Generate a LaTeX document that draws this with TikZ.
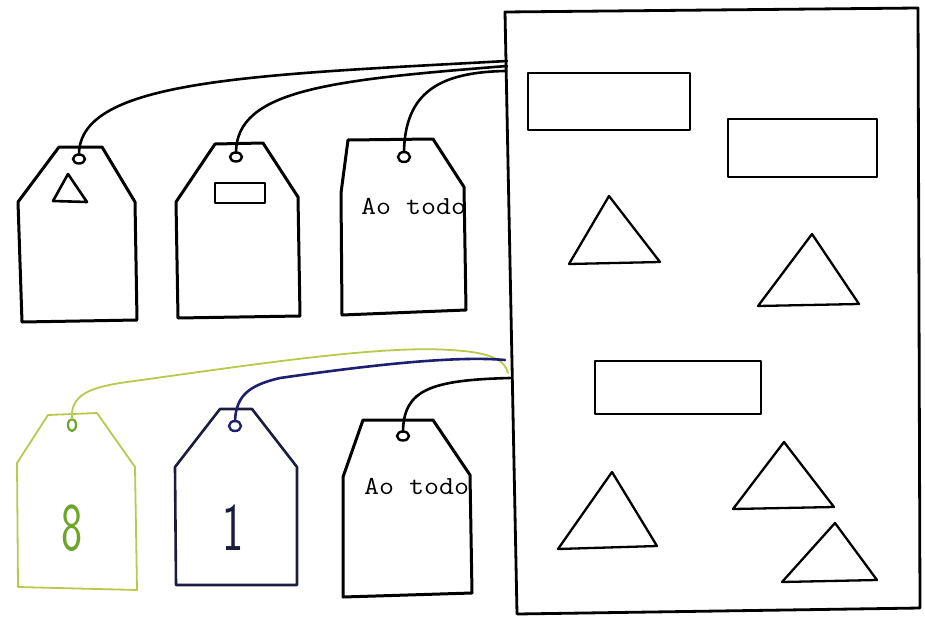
\documentclass[tikz,border=0pt]{standalone}
\usepackage{xcolor}
\usepackage{tikz}
\usetikzlibrary{calc}
\definecolor{tagyellow}{HTML}{B9C94C}
\definecolor{pengreen}{HTML}{6CA52A}
\definecolor{penblue}{HTML}{1F1F72}
\definecolor{navyline}{HTML}{1B1B3E}

\begin{document}
\begin{tikzpicture}[
    x=1pt, y=-1pt,
    tagline/.style={line width=3pt, line join=round},
    shapeline/.style={line width=2.3pt, line join=round},
    cord/.style={line width=2.6pt, line cap=round},
    typed/.style={font=\ttfamily\fontsize{26}{28}\selectfont, anchor=base west, inner sep=0pt, xscale=1.12, transform shape},
    hand/.style={font=\sffamily\fontsize{68}{70}\selectfont, inner sep=0pt, xscale=0.66, transform shape}
]
\useasboundingbox (0,0) rectangle (925,618);

% the sheet with the figures
\draw[line width=2.8pt, line join=round] (505,12) -- (918,8) -- (920,608) -- (517,614) -- cycle;
\coordinate (e1) at (507,61);
\coordinate (e2) at (507,66);
\coordinate (e3) at (506,71);
\coordinate (e4) at (508,373);
\coordinate (e5) at (505,360);
\coordinate (e6) at (510,378);

\draw[shapeline] (528,73) rectangle (690,130);
\draw[shapeline] (728,119) rectangle (877,177);
\draw[shapeline] (609,196) -- (569,264) -- (660,262) -- cycle;
\draw[shapeline] (812,234) -- (758,306) -- (859,304) -- cycle;
\draw[shapeline] (595,361) rectangle (761,414);
\draw[shapeline] (612,472) -- (558,549) -- (657,546) -- cycle;
\draw[shapeline] (784,442) -- (733,509) -- (834,507) -- cycle;
\draw[shapeline] (835,523) -- (782,582) -- (877,580) -- cycle;

% upper row of tags
\draw[tagline] (59,147) -- (102,147) -- (135,202) -- (137,320) -- (22,322) -- (18,202) -- cycle;
\draw[tagline] (215,144) -- (263,143) -- (298,197) -- (300,316) -- (178,318) -- (176,202) -- cycle;
\draw[tagline] (348,140) -- (433,139) -- (464,187) -- (466,310) -- (342,315) -- (341,193) -- cycle;
\draw[shapeline, line width=2.6pt] (68,174) -- (53,201) -- (87,202) -- cycle;
\draw[shapeline, line width=2.6pt] (215,183) rectangle (265,203);
\begin{scope}
  \clip (348,140) -- (433,139) -- (464,187) -- (466,310) -- (342,315) -- (341,193) -- cycle;
  \node[typed] (sum1) at (361,214) {Ao todo};
\end{scope}

\coordinate (h1) at (79,159);
\coordinate (h2) at (236,157);
\coordinate (h3) at (404,157);
\draw[line width=2.4pt] (h1) ellipse [x radius=6, y radius=4.5];
\draw[line width=2.4pt] (h2) ellipse [x radius=6, y radius=4.5];
\draw[line width=2.4pt] (h3) ellipse [x radius=6, y radius=5];

\draw[cord] ($(h1)+(0,-5)$) .. controls (80,80) and (250,75) .. (e1);
\draw[cord] ($(h2)+(0,-5)$) .. controls (237,90) and (330,80) .. (e2);
\draw[cord] ($(h3)+(0,-5)$) .. controls (405,92) and (440,72) .. (e3);

% lower row of tags
\draw[tagline, tagyellow, line width=1.8pt] (48,415) -- (97,413) -- (135,467) -- (137,590) -- (18,587) -- (17,463) -- cycle;
\draw[tagline, navyline, line width=2.6pt] (220,409) -- (252,409) -- (297,467) -- (297,585) -- (176,585) -- (175,467) -- cycle;
\draw[tagline] (363,420) -- (433,420) -- (470,475) -- (472,593) -- (343,597) -- (343,477) -- cycle;
\node[hand, pengreen] (eight) at (72,528) {8};
\node[hand, navyline] (one) at (233,528) {1};
\begin{scope}
  \clip (363,420) -- (433,420) -- (470,475) -- (472,593) -- (343,597) -- (343,477) -- cycle;
  \node[typed] (sum2) at (364,494) {Ao todo};
\end{scope}

\coordinate (h4) at (72,425);
\coordinate (h5) at (235,426);
\coordinate (h6) at (403,436);
\draw[pengreen, line width=2.2pt] (h4) ellipse [x radius=4, y radius=6];
\draw[penblue, line width=2.4pt] (h5) ellipse [x radius=6, y radius=5];
\draw[line width=2.4pt] (h6) ellipse [x radius=6, y radius=4.5];

\draw[cord, tagyellow, line width=1.8pt] ($(h4)+(0,-6)$) .. controls (70,395) and (90,388) .. (120,383)
    .. controls (250,365) and (380,345) .. (450,350) .. controls (490,352) and (505,360) .. (e4);
\draw[cord, penblue] ($(h5)+(0,-5)$) .. controls (236,395) and (250,385) .. (280,378)
    .. controls (350,368) and (450,355) .. (e5);
\draw[cord] ($(h6)+(0,-5)$) .. controls (404,390) and (430,380) .. (e6);
\end{tikzpicture}
\end{document}
